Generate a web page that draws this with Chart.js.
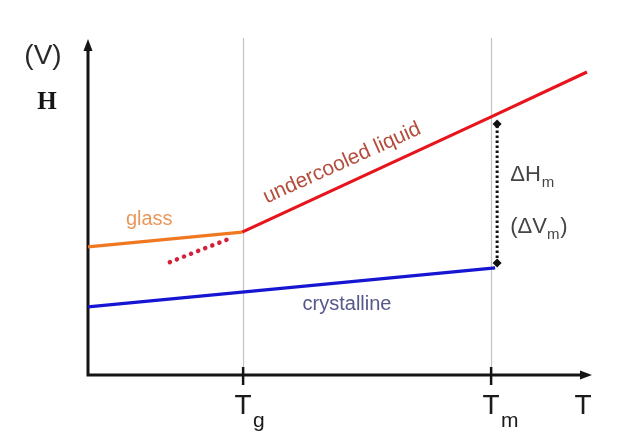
<!DOCTYPE html>
<html><head><meta charset="utf-8">
<script src="https://cdn.jsdelivr.net/npm/chart.js@4.4.0/dist/chart.umd.min.js"></script>
<style>html,body{margin:0;padding:0;background:#fff;overflow:hidden}#wrap{width:627px;height:433px}</style>
</head><body><div id="wrap"><canvas id="c" width="627" height="433"></canvas></div>
<script>
// ---- data (axis units 0..100) ----
const tickPositions = [30.9, 80.3];
const tickLabels = [['T','g'], ['T','m']];
const axisLabelX = 'T';
const glassLine = [{x:0, y:38.0}, {x:30.7, y:42.4}];
const liquidLine = [{x:30.7, y:42.4}, {x:80.3, y:76.6}, {x:99.4, y:89.9}];
const liquidExtrap = [{x:16.3, y:33.5}, {x:28.9, y:40.9}];
const crystalLine = [{x:0, y:20.2}, {x:81.1, y:31.8}];
const meltGap = [{x:81.5, y:33.2}, {x:81.5, y:74.5}];

const deco = {
  id: 'deco',
  beforeDatasetsDraw(chart) {
    const {ctx, chartArea: a, scales: {x}} = chart;
    ctx.save();
    ctx.strokeStyle = '#c4c4c4'; ctx.lineWidth = 1.2;
    tickPositions.forEach(v => {
      const px = Math.round(x.getPixelForValue(v)) + 0.5;
      ctx.beginPath(); ctx.moveTo(px, a.top); ctx.lineTo(px, a.bottom); ctx.stroke();
    });
    ctx.strokeStyle = '#151515'; ctx.fillStyle = '#151515'; ctx.lineWidth = 3;
    ctx.lineJoin = 'miter';
    ctx.beginPath();
    ctx.moveTo(a.left, a.top + 10); ctx.lineTo(a.left, a.bottom); ctx.lineTo(a.right - 6, a.bottom);
    ctx.stroke();
    // arrow heads
    ctx.beginPath();
    ctx.moveTo(a.left, a.top + 1); ctx.lineTo(a.left - 4.5, a.top + 13); ctx.lineTo(a.left + 4.5, a.top + 13); ctx.closePath(); ctx.fill();
    ctx.beginPath();
    ctx.moveTo(a.right + 2, a.bottom); ctx.lineTo(a.right - 10, a.bottom - 4.5); ctx.lineTo(a.right - 10, a.bottom + 4.5); ctx.closePath(); ctx.fill();
    // tick marks
    ctx.lineWidth = 2.5;
    tickPositions.forEach(v => {
      const px = x.getPixelForValue(v);
      ctx.beginPath(); ctx.moveTo(px, a.bottom - 8); ctx.lineTo(px, a.bottom + 10); ctx.stroke();
    });
    // tick labels
    ctx.fillStyle = '#1a1a1a'; ctx.textBaseline = 'middle';
    tickPositions.forEach((v, i) => {
      const px = x.getPixelForValue(v);
      ctx.font = '28px "Liberation Sans", Arial, sans-serif'; ctx.textAlign = 'center';
      ctx.fillText(tickLabels[i][0], px, a.bottom + 31);
      ctx.font = '21px "Liberation Sans", Arial, sans-serif'; ctx.textAlign = 'left';
      ctx.fillText(tickLabels[i][1], px + 10, a.bottom + 46);
    });
    ctx.font = '28px "Liberation Sans", Arial, sans-serif'; ctx.textAlign = 'center';
    ctx.fillText(axisLabelX, a.right - 7, a.bottom + 31);
    // y axis labels
    ctx.fillStyle = '#2a2a2a';
    ctx.font = '28px "Liberation Sans", Arial, sans-serif';
    ctx.fillText('(V)', 43, 56);
    ctx.fillStyle = '#151515';
    ctx.font = 'bold 25px "Liberation Serif", "Times New Roman", serif';
    ctx.fillText('H', 47, 103);
    ctx.restore();
  },
  afterDatasetsDraw(chart) {
    const {ctx, scales: {x, y}} = chart;
    ctx.save();
    ctx.textBaseline = 'middle';
    const sans = 'px "Liberation Sans", Arial, sans-serif';
    // glass
    ctx.fillStyle = '#e9975a'; ctx.font = '20' + sans; ctx.textAlign = 'center';
    ctx.fillText('glass', x.getPixelForValue(12.2), y.getPixelForValue(46.0));
    // crystalline
    ctx.fillStyle = '#555889'; ctx.font = '20' + sans;
    ctx.fillText('crystalline', x.getPixelForValue(51.6), y.getPixelForValue(20.8));
    // undercooled liquid
    ctx.save();
    ctx.translate(x.getPixelForValue(50.6), y.getPixelForValue(62.9));
    ctx.rotate(-24.3 * Math.PI / 180);
    ctx.fillStyle = '#b44d3c'; ctx.font = '21' + sans;
    ctx.fillText('undercooled liquid', 0, 0);
    ctx.restore();
    // delta labels
    ctx.fillStyle = '#444'; ctx.textAlign = 'left';
    let px = x.getPixelForValue(84.1), py = y.getPixelForValue(59.3);
    ctx.font = '22' + sans; ctx.fillText('\u0394H', px, py);
    let w = ctx.measureText('\u0394H').width;
    ctx.font = '15' + sans; ctx.fillText('m', px + w + 1, py + 8);
    py = y.getPixelForValue(43.9);
    ctx.font = '22' + sans; ctx.fillText('(\u0394V', px, py);
    w = ctx.measureText('(\u0394V').width;
    ctx.font = '15' + sans; ctx.fillText('m', px + w, py + 8);
    const w2 = ctx.measureText('m').width;
    ctx.font = '22' + sans; ctx.fillText(')', px + w + w2 + 1, py);
    ctx.restore();
  }
};

new Chart(document.getElementById('c'), {
  type: 'line',
  data: {
    datasets: [
      {data: glassLine, borderColor: '#f07820', borderWidth: 3.2, pointRadius: 0},
      {data: crystalLine, borderColor: '#1616d2', borderWidth: 3.2, pointRadius: 0},
      {data: liquidExtrap, borderColor: '#d42038', borderWidth: 4.5, borderDash: [0.1, 7.5], borderCapStyle: 'round', pointRadius: 0},
      {data: liquidLine, borderColor: '#e8141c', borderWidth: 3.2, pointRadius: 0},
      {data: meltGap, borderColor: '#111', borderWidth: 3, borderDash: [2.5, 2.5], pointRadius: 4.5, pointStyle: 'rectRot', pointBackgroundColor: '#111', pointBorderColor: '#111', pointBorderWidth: 0}
    ]
  },
  options: {
    responsive: false, animation: false, devicePixelRatio: 1,
    layout: {padding: {left: 88, right: 37, top: 38, bottom: 58}},
    plugins: {legend: {display: false}, tooltip: {enabled: false}},
    elements: {line: {tension: 0, fill: false}},
    datasets: {line: {clip: false}},
    scales: {
      x: {type: 'linear', min: 0, max: 100, display: false},
      y: {type: 'linear', min: 0, max: 100, display: false}
    }
  },
  plugins: [deco]
});
</script></body></html>
